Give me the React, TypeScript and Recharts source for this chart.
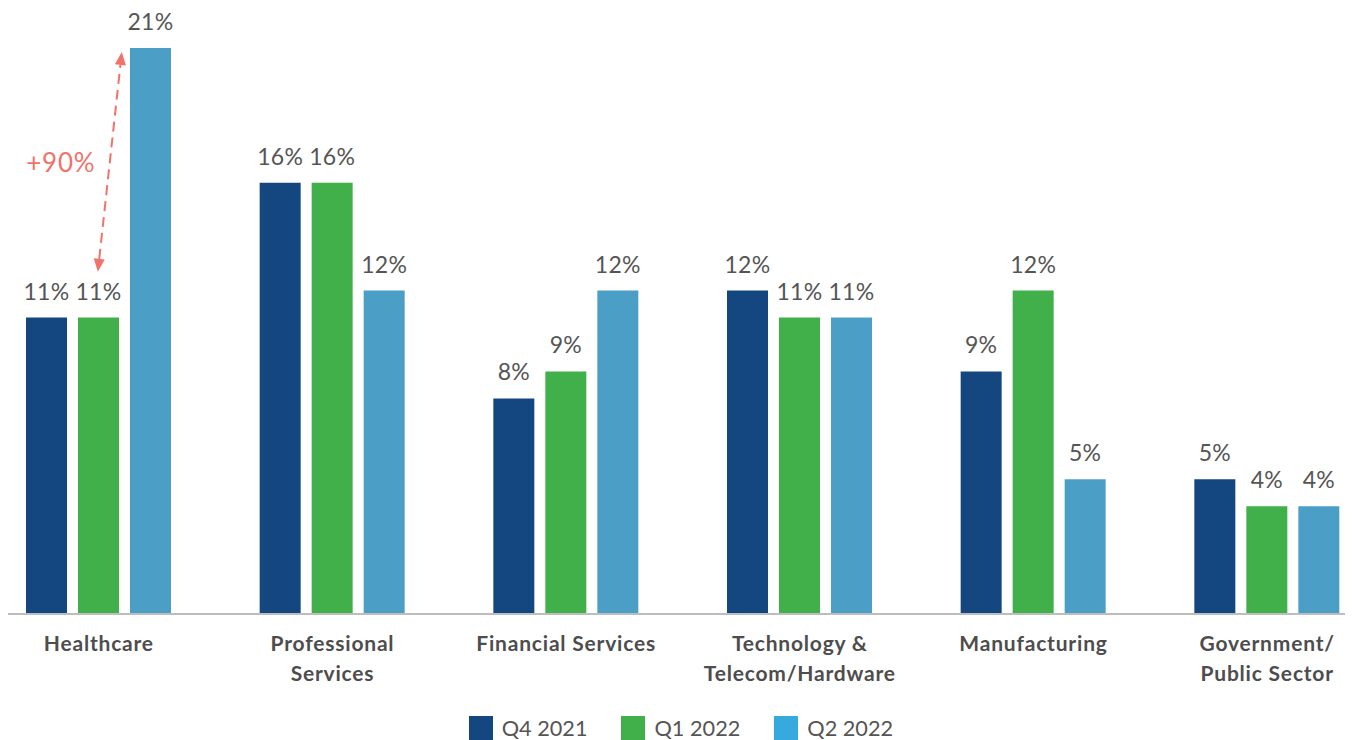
import React from 'react';
import { BarChart, Bar, XAxis, YAxis, LabelList, Legend, ReferenceLine } from 'recharts';

const categories = ['Healthcare', 'Professional Services', 'Financial Services', 'Technology & Telecom/Hardware', 'Manufacturing', 'Government/ Public Sector'];
const tickLines: string[][] = [
  ['Healthcare'],
  ['Professional', 'Services'],
  ['Financial Services'],
  ['Technology &', 'Telecom/Hardware'],
  ['Manufacturing'],
  ['Government/', 'Public Sector'],
];
const seriesNames = ['Q4 2021', 'Q1 2022', 'Q2 2022'];
const q4_2021 = [11, 16, 8, 12, 9, 5];
const q1_2022 = [11, 16, 9, 11, 12, 4];
const q2_2022 = [21, 12, 12, 11, 5, 4];
const barColors = ['#14467f', '#41b04a', '#4b9fc7'];
const legendColors = ['#14467f', '#41b04a', '#36a9dd'];
const annotationText = '+90%';
const annotationFrom = 12.7;
const annotationTo = 20.85;

const data = categories.map((c, i) => ({
  name: c,
  q4: q4_2021[i],
  q1: q1_2022[i],
  q2: q2_2022[i],
}));

const FONT = 'Lato, "Noto Sans", sans-serif';
const ACCENT = '#f0736a';

const Tick = (props: any) => {
  const { x, y, payload } = props;
  const lines = tickLines[categories.indexOf(payload.value)] || [payload.value];
  return (
    <text x={x} y={y + 37} textAnchor="middle" fill="#4d4d4d" fontFamily={FONT} fontWeight={700} fontSize={21} letterSpacing={0.8}>
      {lines.map((l, i) => (
        <tspan key={i} x={x} dy={i === 0 ? 0 : 30}>{l}</tspan>
      ))}
    </text>
  );
};

const ArrowShape = (props: any) => {
  const { x1, y1, x2, y2 } = props;
  const bx = x1 - 1;
  const by = y1;
  const tx = x2 + 23;
  const ty = y2;
  const dx = tx - bx;
  const dy = ty - by;
  const len = Math.sqrt(dx * dx + dy * dy);
  const ux = dx / len;
  const uy = dy / len;
  const px = -uy;
  const py = ux;
  const hl = 13;
  const hw = 5.5;
  const head = (ex: number, ey: number, dirx: number, diry: number) => {
    const baseX = ex - dirx * hl;
    const baseY = ey - diry * hl;
    return `${ex},${ey} ${baseX + px * hw},${baseY + py * hw} ${baseX - px * hw},${baseY - py * hw}`;
  };
  const mx = (bx + tx) / 2;
  const my = (by + ty) / 2;
  return (
    <g>
      <line
        x1={bx + ux * hl}
        y1={by + uy * hl}
        x2={tx - ux * hl}
        y2={ty - uy * hl}
        stroke={ACCENT}
        strokeWidth={2}
        strokeDasharray="10 6"
      />
      <polygon points={head(tx, ty, ux, uy)} fill={ACCENT} />
      <polygon points={head(bx, by, -ux, -uy)} fill={ACCENT} />
      <text x={mx - 49} y={my} textAnchor="middle" dominantBaseline="central" fill={ACCENT} fontFamily={FONT} fontSize={26} letterSpacing={0.8}>
        {annotationText}
      </text>
    </g>
  );
};

const LegendContent = () => (
  <div style={{ display: 'flex', alignItems: 'center', height: 24, paddingLeft: 487, boxSizing: 'border-box', fontFamily: FONT }}>
    {seriesNames.map((s, i) => (
      <div key={s} style={{ display: 'flex', alignItems: 'center', marginRight: 34 }}>
        <div style={{ width: 24, height: 24, background: legendColors[i] }} />
        <span style={{ marginLeft: 9, fontSize: 21.7, color: '#555', lineHeight: '24px' }}>{s}</span>
      </div>
    ))}
  </div>
);

const fmt = (v: any) => `${v}%`;

export default function App() {
  const keys = ['q4', 'q1', 'q2'];
  return (
    <div style={{ position: 'relative', width: 1345, height: 732, overflow: 'hidden', background: '#fff' }}>
      <div style={{ position: 'absolute', left: -26.33, top: 0 }}>
        <BarChart
          width={1402}
          height={732}
          data={data}
          margin={{ top: 40, right: 0, bottom: 0, left: 0 }}
          barSize={41}
          barGap={11}
        >
          <XAxis
            dataKey="name"
            axisLine={{ stroke: '#bdbdbd', strokeWidth: 2 }}
            tickLine={false}
            tickSize={0}
            tickMargin={0}
            height={102}
            interval={0}
            tick={<Tick />}
          />
          <YAxis hide type="number" domain={[0, 21]} allowDataOverflow />
          <Legend verticalAlign="bottom" content={<LegendContent />} wrapperStyle={{ left: 0, bottom: 0, width: 1402, height: 24 }} />
          {keys.map((k, i) => (
            <Bar key={k} dataKey={k} name={seriesNames[i]} fill={barColors[i]} isAnimationActive={false}>
              <LabelList dataKey={k} position="top" offset={18} formatter={fmt} fill="#555" fontFamily={FONT} fontSize={23} letterSpacing={0.3} />
            </Bar>
          ))}
          <ReferenceLine
            segment={[{ x: categories[0], y: annotationFrom }, { x: categories[0], y: annotationTo }]}
            ifOverflow="visible"
            shape={(p: any) => <ArrowShape {...p} />}
          />
        </BarChart>
      </div>
    </div>
  );
}
